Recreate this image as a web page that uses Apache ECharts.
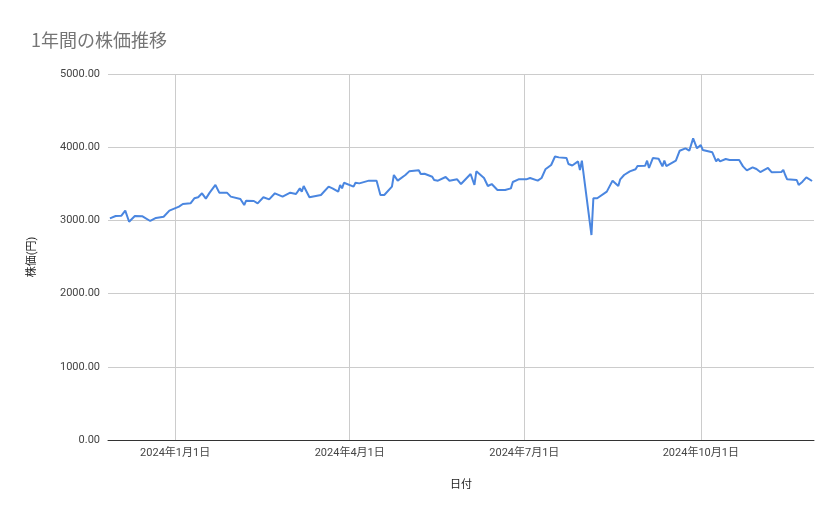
<!DOCTYPE html>
<html>
<head>
<meta charset="utf-8">
<script src="https://cdn.jsdelivr.net/npm/echarts@6/dist/echarts.min.js"></script>
<style>html,body{margin:0;padding:0;background:#fff}#c{width:839px;height:519px}</style>
</head>
<body>
<div id="c"></div>
<script>
// 2024-01-01 からの経過日数
const dayOffsets = [-34,-33,-31,-28,-26,-25,-24,-21,-17,-13,-10,-6,-3,2,4,8,10,12,14,16,18,21,23,27,29,30,34,36,37,41,43,46,49,52,56,57,60,63,65,66,67,70,76,80,82,85,86,87,88,93,94,96,101,102,105,107,109,113,114,116,120,122,127,128,130,134,135,137,141,143,147,149,154,155,156,157,161,163,165,168,169,172,175,176,177,179,183,184,185,189,191,193,196,198,200,204,205,207,210,211,212,217,218,220,221,225,228,231,232,234,237,240,241,245,246,247,249,252,254,255,256,261,263,266,268,270,272,274,275,280,282,283,284,287,289,290,291,294,296,298,301,303,304,305,309,311,316,317,318,319,324,325,327,329,330,332];
const prices = [3028,3015,3060,3065,3133,3115,2982,3060,3056,2992,3033,3050,3133,3188,3224,3233,3302,3316,3370,3297,3379,3484,3379,3379,3325,3333,3292,3210,3269,3265,3233,3316,3288,3370,3325,3316,3379,3361,3438,3393,3470,3316,3347,3461,3438,3393,3484,3438,3515,3461,3515,3506,3543,3566,3543,3347,3347,3461,3620,3543,3620,3670,3684,3634,3638,3597,3552,3543,3593,3543,3561,3497,3634,3620,3484,3670,3579,3470,3497,3415,3438,3415,3438,3525,3506,3561,3561,3543,3579,3543,3579,3698,3757,3873,3861,3852,3770,3750,3806,3689,3816,2800,3302,3302,3325,3393,3543,3470,3561,3620,3670,3698,3743,3748,3816,3716,3852,3843,3738,3816,3743,3816,3952,3984,3952,4121,3984,4030,3962,3930,3806,3839,3806,3839,3825,3852,3825,3825,3738,3684,3725,3702,3725,3661,3716,3657,3661,3689,3620,3561,3552,3484,3529,3588,3579,3538];
const tickDates = ["2024-01-01","2024-04-01","2024-07-01","2024-10-01"];

const DAY = 86400000;
const base = Date.UTC(2024,0,1);
const seriesData = dayOffsets.map((d,i) => [d, prices[i]]);
const tickVals = tickDates.map(s => Math.round((Date.parse(s+"T00:00:00Z") - base) / DAY));
const fmtDate = v => { const d = new Date(base + v*DAY); return d.getUTCFullYear()+"年"+(d.getUTCMonth()+1)+"月"+d.getUTCDate()+"日"; };

const chart = echarts.init(document.getElementById("c"), null, { renderer: "canvas" });
const font = "Roboto, 'Noto Sans CJK JP', sans-serif";
chart.setOption({
  animation: false,
  title: { text: "1年間の株価推移", left: 26, top: 26, textStyle: { color: "#757575", fontSize: 18, fontWeight: "normal", fontFamily: "'Noto Sans CJK JP', sans-serif" } },
  grid: { left: 108, right: 25, top: 74, bottom: 79 },
  xAxis: {
    type: "value", min: -35, max: 333,
    name: "日付", nameLocation: "middle", nameGap: 40,
    nameTextStyle: { color: "#222", fontSize: 11, fontFamily: font },
    axisLine: { onZero: false, lineStyle: { color: "#333" } },
    axisTick: { show: false, customValues: tickVals },
    axisLabel: { customValues: tickVals, color: "#444", fontSize: 11, fontFamily: font, margin: 8, formatter: fmtDate },
    splitLine: { show: false }
  },
  yAxis: {
    type: "value", min: 0, max: 5000, interval: 1000,
    name: "株価(円)", nameLocation: "middle", nameGap: 70, nameRotate: 90,
    nameTextStyle: { color: "#222", fontSize: 11, fontFamily: font },
    axisLine: { show: false }, axisTick: { show: false },
    axisLabel: { color: "#444", fontSize: 11, fontFamily: font, formatter: v => v.toFixed(2) },
    splitLine: { lineStyle: { color: "#ccc" } }
  },
  series: [{
    type: "line", data: seriesData, showSymbol: false, z: 3,
    lineStyle: { color: "#4a86e0", width: 2 }, itemStyle: { color: "#4a86e0" },
    markLine: {
      silent: true, symbol: "none", label: { show: false }, z: 1,
      lineStyle: { color: "#ccc", type: "solid", width: 1 },
      data: tickVals.map(v => ({ xAxis: v }))
    }
  }]
});
</script>
</body>
</html>
